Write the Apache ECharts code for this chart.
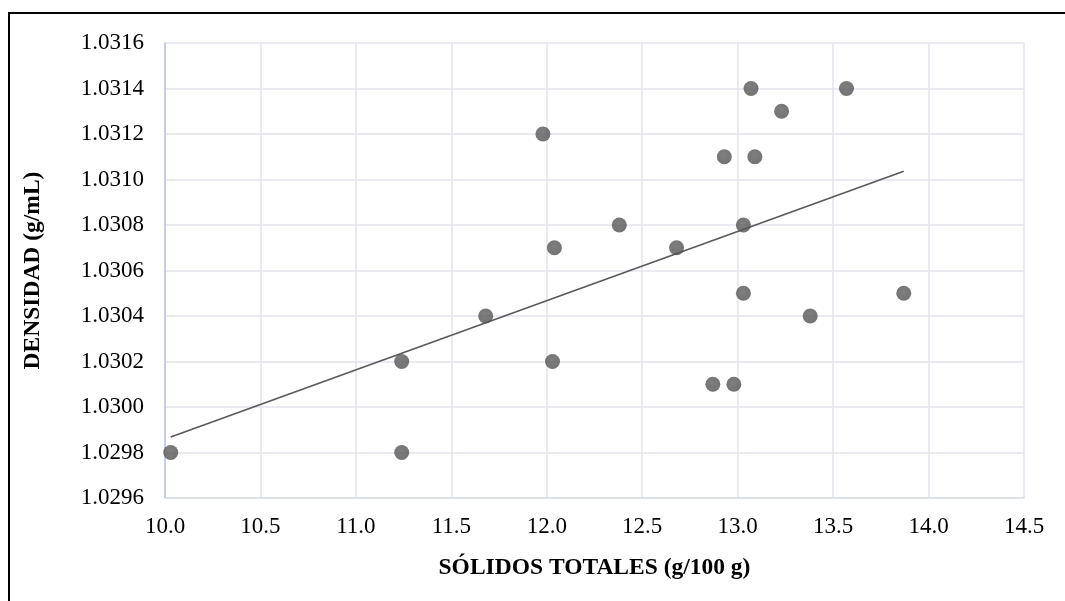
<!DOCTYPE html>
<html>
<head>
<meta charset="utf-8">
<script src="https://cdn.jsdelivr.net/npm/echarts@6/dist/echarts.min.js"></script>
<style>
  html, body { margin: 0; padding: 0; background: #fff; }
  #chart { width: 1065px; height: 601px; }
</style>
</head>
<body>
<div id="chart"></div>
<script>
// Sólidos totales (g/100 g) and density (g/mL) per sample
const solidos = [10.03, 11.24, 11.24, 11.68, 12.03, 12.04, 11.98, 12.38, 12.68, 12.87,
                 12.98, 12.93, 13.09, 13.07, 13.23, 13.57, 13.03, 13.03, 13.38, 13.87];
const densidad = [1.0298, 1.0298, 1.0302, 1.0304, 1.0302, 1.0307, 1.0312, 1.0308, 1.0307, 1.0301,
                  1.0301, 1.0311, 1.0311, 1.0314, 1.0313, 1.0314, 1.0308, 1.0305, 1.0304, 1.0305];

const xTitle = 'SÓLIDOS TOTALES (g/100 g)';
const yTitle = 'DENSIDAD (g/mL)';

const points = solidos.map((x, i) => [x, densidad[i]]);

// Least-squares linear trend line over the sample range
const n = points.length;
const mx = solidos.reduce((a, b) => a + b, 0) / n;
const my = densidad.reduce((a, b) => a + b, 0) / n;
let sxy = 0, sxx = 0;
for (let i = 0; i < n; i++) {
  sxy += (solidos[i] - mx) * (densidad[i] - my);
  sxx += (solidos[i] - mx) ** 2;
}
const slope = sxy / sxx;
const intercept = my - slope * mx;
const xMin = Math.min(...solidos), xMax = Math.max(...solidos);
const trend = [[xMin, intercept + slope * xMin], [xMax, intercept + slope * xMax]];

const font = '"Liberation Serif", "Times New Roman", serif';
const chart = echarts.init(document.getElementById('chart'), null, { renderer: 'canvas' });

chart.setOption({
  animation: false,
  backgroundColor: '#ffffff',
  graphic: [{
    type: 'rect',
    shape: { x: 9, y: 13, width: 1200, height: 800 },
    style: { fill: 'none', stroke: '#000', lineWidth: 2 },
    silent: true
  }],
  grid: { left: 165, right: 41, top: 43, bottom: 103, containLabel: false },
  xAxis: {
    type: 'value',
    min: 10, max: 14.5, interval: 0.5,
    name: xTitle,
    nameLocation: 'middle',
    nameGap: 58,
    nameTextStyle: { fontFamily: font, fontWeight: 'bold', fontSize: 23.5, color: '#000' },
    axisLine: { show: true, lineStyle: { color: '#d9dde6', width: 1.5 } },
    axisTick: { show: false },
    axisLabel: {
      fontFamily: font, fontSize: 23, color: '#000', margin: 17,
      formatter: v => v.toFixed(1)
    },
    splitLine: { show: true, lineStyle: { color: '#e2e5ec', width: 1.5 } }
  },
  yAxis: {
    type: 'value',
    min: 1.0296, max: 1.0316, interval: 0.0002,
    name: yTitle,
    nameLocation: 'middle',
    nameGap: 120,
    nameRotate: 90,
    nameTextStyle: { fontFamily: font, fontWeight: 'bold', fontSize: 23.5, color: '#000' },
    axisLine: { show: true, lineStyle: { color: '#b8c5da', width: 1.5 } },
    axisTick: { show: false },
    axisLabel: {
      fontFamily: font, fontSize: 23, color: '#000', margin: 21,
      formatter: v => v.toFixed(4)
    },
    splitLine: { show: true, lineStyle: { color: '#e2e5ec', width: 1.5 } }
  },
  series: [
    {
      type: 'line',
      data: trend,
      symbol: 'none',
      lineStyle: { color: '#595959', width: 1.6 },
      z: 2,
      silent: true
    },
    {
      type: 'scatter',
      data: points,
      symbol: 'circle',
      symbolSize: 15,
      itemStyle: {
        color: {
          type: 'radial', x: 0.45, y: 0.4, r: 0.65,
          colorStops: [
            { offset: 0, color: '#5e5e5e' },
            { offset: 1, color: '#4f4f4f' }
          ]
        }
      },
      z: 3
    }
  ]
});
</script>
</body>
</html>
